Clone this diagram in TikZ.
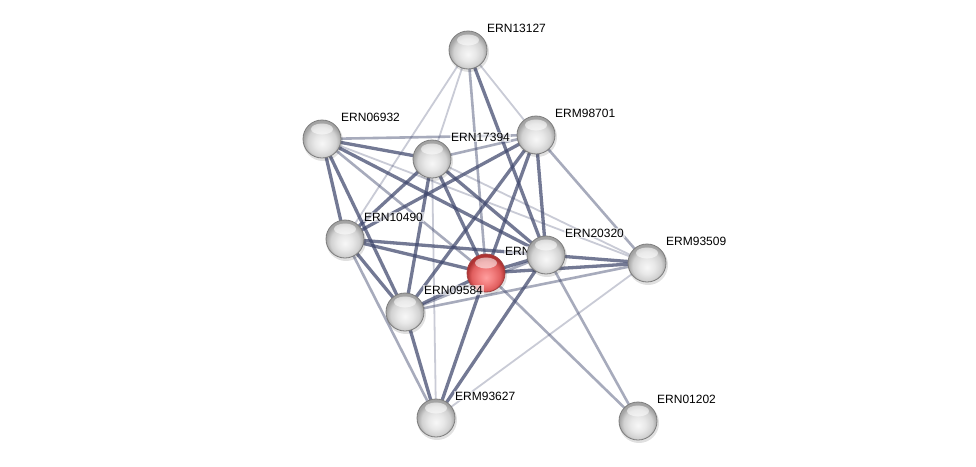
\documentclass[tikz,border=0pt]{standalone}
\usepackage{fontspec}
\setmainfont{Liberation Sans}

\definecolor{edgeblue}{RGB}{62,70,108}
\definecolor{ballrim}{RGB}{125,125,125}
\definecolor{redrim}{RGB}{165,65,65}
\pgfdeclareradialshading{greyball}{\pgfpoint{0bp}{-6bp}}{color(0bp)=(white!97!black); color(10bp)=(white!91!black); color(19bp)=(white!82!black); color(25bp)=(white!64!black); color(50bp)=(white!64!black)}
\pgfdeclareradialshading{redball}{\pgfpoint{0bp}{-6bp}}{color(0bp)=(red!38!white); color(10bp)=(red!48!white!95!black); color(19bp)=(red!58!white!88!black); color(25bp)=(red!60!black!80!white); color(50bp)=(red!60!black!80!white)}

\tikzset{
  strong/.style={edgeblue, line width=3.3pt, opacity=.72},
  medium/.style={edgeblue, line width=2.6pt, opacity=.45},
  weak/.style={edgeblue, line width=1.8pt, opacity=.28},
  ball/.style={circle, minimum size=38pt, inner sep=0pt, draw=ballrim, line width=.8pt, shading=greyball},
  redb/.style={circle, minimum size=38pt, inner sep=0pt, draw=redrim, line width=.8pt, shading=redball},
  lab/.style={anchor=base west, inner sep=1pt, fill=white, fill opacity=.6, text opacity=1,
    font=\fontsize{12}{14}\selectfont, xshift=18pt, yshift=18pt}
}

% draws a sphere with shadow and highlight
\newcommand{\sphere}[3]{%
  \fill[black, opacity=.12] (#1) ++(1,2) circle (20pt);
  \node[#2] (n#1) at (#1) {};
  \fill[white, opacity=.55] (#1) ++(0,-10) ellipse (11pt and 5.5pt);
  \node[lab] (l#1) at (#1) {#3};
}

\begin{document}
\begin{tikzpicture}[x=1pt, y=-1pt]
  \useasboundingbox (0,0) rectangle (976,466);
  \fill[white] (0,0) rectangle (976,466);

  \coordinate (A) at (468,50);
  \coordinate (B) at (322,139);
  \coordinate (C) at (432,159);
  \coordinate (D) at (536,135);
  \coordinate (E) at (345,239);
  \coordinate (R) at (486,273);
  \coordinate (F) at (546,255);
  \coordinate (G) at (647,263);
  \coordinate (H) at (405,312);
  \coordinate (I) at (436,418);
  \coordinate (J) at (638,421);

  % links
  \foreach \a/\b in {A/E, A/C, A/D, B/G, C/G, C/I, G/I}
    \draw[weak] (\a) -- (\b);
  \foreach \a/\b in {A/R, B/D, C/D, D/G, J/R, J/F, H/G, H/F, E/I, B/R}
    \draw[medium] (\a) -- (\b);
  \foreach \a/\b in {A/F, B/C, B/E, B/H, B/F, C/R, C/F, C/H, C/E, D/R, D/F, D/H, D/E,
                     E/R, E/F, E/H, R/F, R/H, R/I, R/G, F/G, F/I, H/I}
    \draw[strong] (\a) -- (\b);

  % proteins
  \sphere{A}{ball}{ERN13127}
  \sphere{B}{ball}{ERN06932}
  \sphere{C}{ball}{ERN17394}
  \sphere{D}{ball}{ERM98701}
  \sphere{E}{ball}{ERN10490}
  \sphere{I}{ball}{ERM93627}
  \sphere{J}{ball}{ERN01202}
  \sphere{G}{ball}{ERM93509}
  \sphere{R}{redb}{ERN}
  \sphere{F}{ball}{ERN20320}
  \sphere{H}{ball}{ERN09584}
\end{tikzpicture}
\end{document}
